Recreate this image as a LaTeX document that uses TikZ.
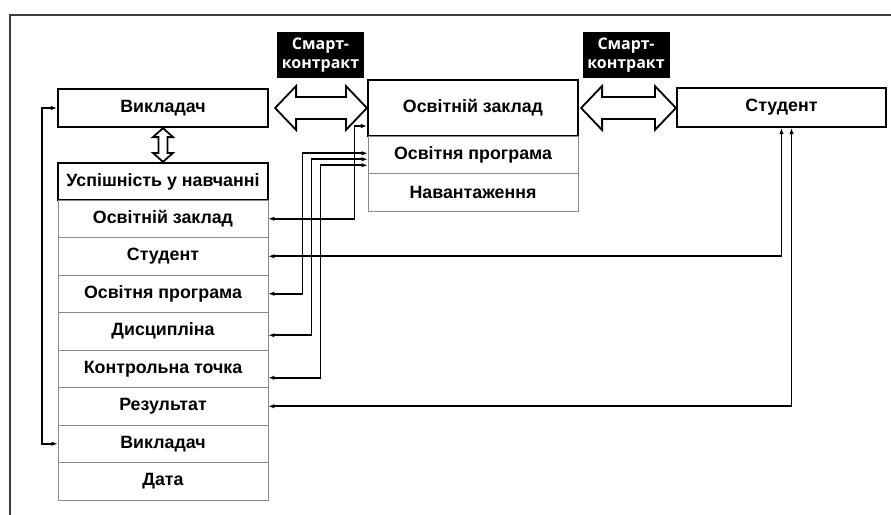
\documentclass[tikz,border=0pt]{standalone}
\usepackage{fontspec}
\setmainfont{Liberation Sans}
\newfontfamily\smartfont{Open Sans}
\usetikzlibrary{arrows.meta,calc}
\definecolor{frameline}{HTML}{3C3C3C}
\definecolor{rowline}{HTML}{8A8A8A}
% hollow double arrow between two tips: tip, tip, head length, half head, half body
\newcommand{\hollowarrow}[5]{%
  \draw[hollowline] (#1) -- ($(#1)!#3!(#2)!#4!90:(#2)$) -- ($(#1)!#3!(#2)!#5!90:(#2)$)
    -- ($(#2)!#3!(#1)!#5!-90:(#1)$) -- ($(#2)!#3!(#1)!#4!-90:(#1)$) -- (#2)
    -- ($(#2)!#3!(#1)!#4!90:(#1)$) -- ($(#2)!#3!(#1)!#5!90:(#1)$)
    -- ($(#1)!#3!(#2)!#5!-90:(#2)$) -- ($(#1)!#3!(#2)!#4!-90:(#2)$) -- cycle;}

\begin{document}
\begin{tikzpicture}[x=1pt,y=-1pt,>={Latex[length=6pt,width=4.5pt]},
  font=\fontsize{17.8}{21}\selectfont\bfseries,
  mainbox/.style={draw,line width=2.2pt,minimum width=210pt,inner sep=0pt},
  rowbox/.style={draw=rowline,line width=0.8pt,minimum width=210pt,minimum height=37.5pt,inner sep=0pt},
  smartbox/.style={fill=black,text=white,align=center,minimum width=87pt,minimum height=46pt,
    inner sep=0pt,font=\smartfont\fontsize{16}{19}\selectfont\bfseries},
  hollowline/.style={draw,line width=1.8pt,fill=white,line join=miter},
  link/.style={<->,line width=1.7pt}]
% Teacher, institution and student joined by smart contracts
\clip (0,0) rectangle (891,514);
\draw[frameline,line width=1.5pt] (10,520)--(10,15)--(895,15);
\node[mainbox,minimum height=38pt] (vikl) at (163,108) {Викладач};
\node[mainbox,minimum height=37pt] (usp) at (163,181.5) {Успішність у навчанні};
\foreach \i/\txt in {1/Освітній заклад,2/Студент,3/Освітня програма,4/Дисципліна,
    5/Контрольна точка,6/Результат,7/Викладач,8/Дата}
  \node[rowbox] (r\i) at (163,{181.25+37.5*\i}) {\txt};
\node[mainbox,minimum height=56pt] (osv) at (473,108) {Освітній заклад};
\node[rowbox] (op) at (473,154.75) {Освітня програма};
\node[rowbox] (nav) at (473,192.25) {Навантаження};
\node[mainbox,minimum width=209pt,minimum height=39pt] (stud) at (781.5,107.5) {Студент};
\node[smartbox] (sk1) at (320.5,55) {Смарт-\\контракт};
\node[smartbox] (sk2) at (626,55) {Смарт-\\контракт};
% hollow double arrows
\coordinate (a1s) at ($(vikl.east)+(6,0)$);
\coordinate (a1e) at (osv.west);
\coordinate (a2s) at ($(osv.east)+(2,0)$);
\coordinate (a2e) at (a2s -| stud.west);
\hollowarrow{a1s}{a1e}{21pt}{22pt}{11pt}
\hollowarrow{a2s}{a2e}{21pt}{22pt}{11pt}
\hollowarrow{vikl.south}{usp.north}{9pt}{10pt}{4.5pt}
% links between the fields
\draw[link] (vikl.west) -- ++(-15,0) |- (r7.west);
\draw[link] (r1.east) -- ++(86,0) |- ([yshift=-18pt]osv.west);
\draw[link] (r2.east) -| (stud.south);
\draw[link] (r3.east) -- ++(34,0) |- ([yshift=1.5pt]op.west);
\draw[link] ([yshift=-4pt]r4.east) -- ++(43,0) |- ([yshift=-4.5pt]op.west);
\draw[link] ([yshift=-9pt]r5.east) -- ++(52,0) |- ([yshift=-10.5pt]op.west);
\draw[link] (r6.east) -| ([xshift=10pt]stud.south);
\end{tikzpicture}
\end{document}
